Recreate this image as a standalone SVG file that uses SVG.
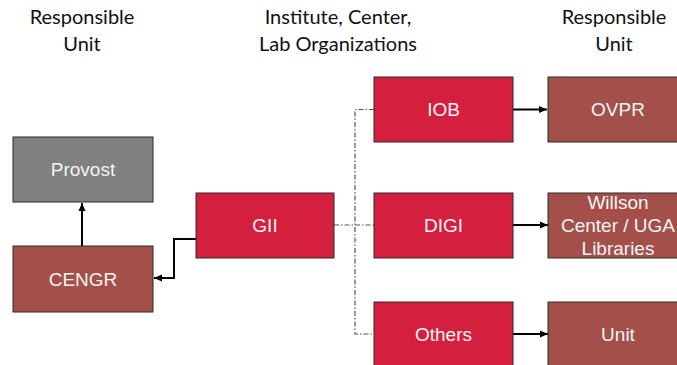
<svg xmlns="http://www.w3.org/2000/svg" width="677" height="365" viewBox="0 0 677 365">
<defs>
<style>
.title{font-family:Lato,"Liberation Sans",sans-serif;font-size:20px;fill:#111;text-anchor:middle}
.box{stroke:#2b2b2b;stroke-width:1}
.red{fill:#D51F3E}
.brown{fill:#A3504A}
.gray{fill:#808080}
.lbl{font-family:"Liberation Sans",Arial,sans-serif;font-size:19px;fill:#F4F4F4;text-anchor:middle}
.arr{stroke:#000;stroke-width:2;fill:none}
.dd{stroke:#555;stroke-width:1.2;fill:none;stroke-dasharray:5 2 1.5 2}
</style>
<marker id="ah" viewBox="0 0 8 8" refX="8" refY="4" markerWidth="8" markerHeight="8" markerUnits="userSpaceOnUse" orient="auto">
<path d="M0,0.5 L8,4 L0,7.5 Z" fill="#000"/>
</marker>
</defs>
<rect width="677" height="365" fill="#fff"/>
<g id="titles">
<text class="title" x="82" y="24">Responsible</text>
<text class="title" x="82" y="51">Unit</text>
<text class="title" x="338" y="24">Institute, Center,</text>
<text class="title" x="338" y="51">Lab Organizations</text>
<text class="title" x="614" y="24">Responsible</text>
<text class="title" x="614" y="51">Unit</text>
</g>
<g id="connectors">
<path class="arr" d="M82,246 V203" marker-end="url(#ah)"/>
<path class="arr" d="M196,239 H174 V278 H154" marker-end="url(#ah)"/>
<path class="dd" d="M334,225 H374"/>
<path class="dd" d="M374,109.5 H355 V334 H374"/>
<path class="arr" d="M513,109.5 H547" marker-end="url(#ah)"/>
<path class="arr" d="M513,225 H548" marker-end="url(#ah)"/>
<path class="arr" d="M513,334 H548" marker-end="url(#ah)"/>
</g>
<g id="provost">
<rect class="box gray" x="13" y="137" width="140" height="65"/>
<text class="lbl" x="83" y="176">Provost</text>
</g>
<g id="cengr">
<rect class="box brown" x="13" y="246" width="140" height="66"/>
<text class="lbl" x="83" y="286">CENGR</text>
</g>
<g id="gii">
<rect class="box red" x="196" y="193" width="138" height="65"/>
<text class="lbl" x="265" y="232">GII</text>
</g>
<g id="iob">
<rect class="box red" x="374" y="77" width="139" height="65"/>
<text class="lbl" x="443.5" y="116">IOB</text>
</g>
<g id="digi">
<rect class="box red" x="374" y="193" width="139" height="65"/>
<text class="lbl" x="443.5" y="232">DIGI</text>
</g>
<g id="others">
<rect class="box red" x="374" y="302" width="139" height="66"/>
<text class="lbl" x="443.5" y="341">Others</text>
</g>
<g id="ovpr">
<rect class="box brown" x="548" y="77" width="140" height="65"/>
<text class="lbl" x="618" y="116">OVPR</text>
</g>
<g id="willson">
<rect class="box brown" x="548" y="193" width="140" height="65"/>
<text class="lbl" x="618" y="209">Willson</text>
<text class="lbl" x="618" y="232">Center / UGA</text>
<text class="lbl" x="618" y="255">Libraries</text>
<path d="M588,211 q1.5,-1.5 3,0 t3,0 t3,0 t3,0 t3,0 t3,0 t3,0 t3,0 t3,0 t3,0 t3,0 t3,0 t3,0 t3,0 t3,0 t3,0 t3,0 t3,0 t3,0 t3,0" fill="none" stroke="#E0302A" stroke-width="0.8"/>
</g>
<g id="unit">
<rect class="box brown" x="548" y="302" width="140" height="66"/>
<text class="lbl" x="618" y="341">Unit</text>
</g>
</svg>
